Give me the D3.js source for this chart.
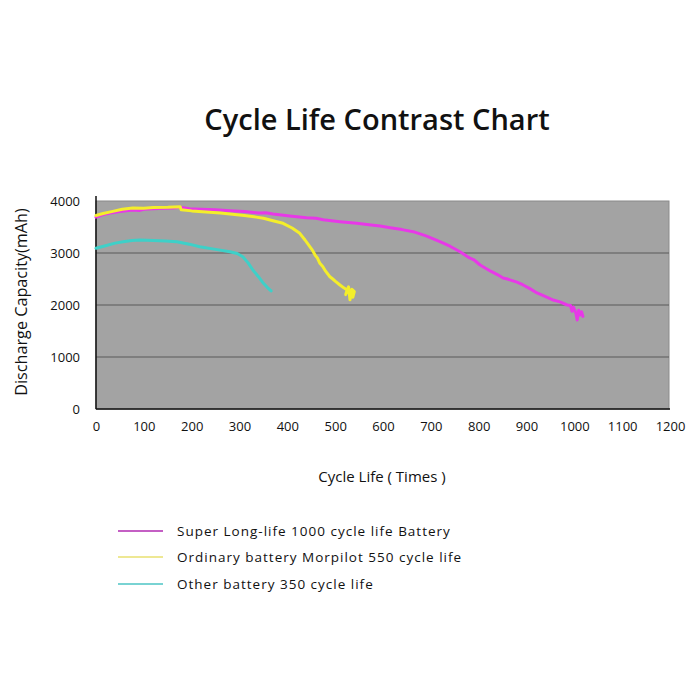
<!DOCTYPE html>
<html>
<head>
<meta charset="utf-8">
<script src="https://cdn.jsdelivr.net/npm/d3@7"></script>
<style>
  html, body { margin: 0; padding: 0; background: #ffffff; }
  svg { display: block; }
  text { font-family: "Open Sans", "Noto Sans", sans-serif; fill: #111; }
</style>
</head>
<body>
<svg id="chart" width="700" height="700"></svg>
<script>
// ---- data ----
const title = "Cycle Life Contrast Chart";
const xLabel = "Cycle Life ( Times )";
const yLabel = "Discharge Capacity(mAh)";
const xTicks = [0, 100, 200, 300, 400, 500, 600, 700, 800, 900, 1000, 1100, 1200];
const yTicks = [0, 1000, 2000, 3000, 4000];
const seriesNames = [
  "Super Long-life 1000 cycle life Battery",
  "Ordinary battery Morpilot 550 cycle life",
  "Other battery 350 cycle life"
];
// [cycles, capacity mAh]
const superLongLife = [[0,3690],[15,3740],[30,3770],[50,3800],[77,3827],[90,3815],[100,3840],[130,3855],[160,3865],[176,3878],[195,3850],[220,3840],[250,3830],[280,3814],[310,3800],[340,3770],[355,3775],[370,3750],[405,3712],[440,3680],[460,3670],[475,3640],[510,3603],[545,3570],[575,3540],[594,3519],[615,3487],[640,3450],[663,3410],[690,3330],[719,3218],[740,3130],[761,3025],[780,2910],[790,2870],[803,2769],[825,2650],[840,2580],[851,2519],[860,2500],[870,2470],[880,2440],[893,2385],[908,2310],[922,2231],[940,2160],[956,2096],[970,2060],[985,2000],[992,1990],[995,1880],[998,1960],[1003,1850],[1006,1711],[1009,1900],[1012,1808],[1015,1870],[1018,1780]];
const ordinary = [[0,3720],[15,3760],[35,3800],[55,3840],[77,3865],[100,3860],[120,3875],[150,3880],[176,3890],[178,3830],[200,3810],[230,3790],[260,3770],[280,3750],[310,3720],[335,3690],[350,3667],[370,3620],[391,3571],[410,3480],[426,3378],[437,3250],[447,3121],[452,3060],[458,2960],[463,2900],[468,2801],[474,2740],[480,2650],[489,2544],[495,2500],[500,2460],[510,2385],[518,2330],[525,2290],[522,2200],[528,2350],[531,2100],[534,2280],[537,2150],[540,2256],[535,2300]];
const other = [[0,3090],[20,3140],[40,3190],[57,3218],[75,3240],[92,3250],[120,3240],[145,3230],[169,3218],[195,3170],[217,3121],[250,3070],[280,3025],[295,2990],[307,2929],[318,2810],[328,2673],[340,2540],[350,2417],[358,2340],[364,2288],[360,2320],[366,2270]];
const lineColors = ["#e838e8", "#f4ee2a", "#3ed0c8"];
const legendColors = ["#b02ab0", "#e8e070", "#4cc4c4"];

// ---- drawing ----
const svg = d3.select("#chart");
const x = d3.scaleLinear().domain([0, 1200]).range([96, 670]);
const y = d3.scaleLinear().domain([0, 4000]).range([409, 201]);

svg.append("text").attr("x", 377).attr("y", 130).attr("text-anchor", "middle")
  .attr("font-size", 29).attr("font-weight", 600).text(title);

// plot background
svg.append("rect").attr("x", x(0)).attr("y", y(4000))
  .attr("width", x(1200) - x(0) - 1).attr("height", y(0) - y(4000))
  .attr("fill", "#a3a3a3").attr("stroke", "#8a8a8a").attr("stroke-width", 1);

// gridlines
svg.append("g").selectAll("line").data(yTicks.filter(d => d > 0 && d < 4000)).join("line")
  .attr("x1", x(0)).attr("x2", x(1200) - 1)
  .attr("y1", d => y(d)).attr("y2", d => y(d))
  .attr("stroke", "#5a5a5a").attr("stroke-width", 1.2);

// y axis
const yAxis = svg.append("g").attr("transform", `translate(${x(0)},0)`)
  .call(d3.axisLeft(y).tickValues(yTicks).tickSize(0).tickPadding(16).tickFormat(d3.format("d")));
yAxis.select(".domain").remove();
yAxis.selectAll("text").attr("font-size", 13).attr("fill", "#111")
  .style("font-family", '"Open Sans", sans-serif');
svg.append("line").attr("x1", x(0)).attr("x2", x(0)).attr("y1", 196).attr("y2", y(0))
  .attr("stroke", "#111").attr("stroke-width", 1.5);

// x axis
const xAxis = svg.append("g").attr("transform", `translate(0,${y(0)})`)
  .call(d3.axisBottom(x).tickValues(xTicks).tickSize(0).tickPadding(13).tickFormat(d3.format("d")));
xAxis.select(".domain").remove();
xAxis.selectAll("text").attr("font-size", 13).attr("fill", "#111")
  .style("font-family", '"Open Sans", sans-serif');
svg.append("line").attr("x1", x(0)).attr("x2", x(1200)).attr("y1", y(0)).attr("y2", y(0))
  .attr("stroke", "#111").attr("stroke-width", 1.5);

// axis titles
svg.append("text").attr("transform", "translate(27,302) rotate(-90)")
  .attr("text-anchor", "middle").attr("font-size", 16.2).text(yLabel);
svg.append("text").attr("x", 382).attr("y", 482).attr("text-anchor", "middle")
  .attr("font-size", 15).text(xLabel);

// series
const line = d3.line().x(d => x(d[0])).y(d => y(d[1]));
const allSeries = [superLongLife, ordinary, other];
svg.append("g").selectAll("path").data(allSeries).join("path")
  .attr("d", line).attr("fill", "none")
  .attr("stroke", (d, i) => lineColors[i]).attr("stroke-width", 3)
  .attr("stroke-linejoin", "round").attr("stroke-linecap", "round");

// legend
const legendY = [531, 557, 584];
const lg = svg.append("g").selectAll("g").data(seriesNames).join("g")
  .attr("transform", (d, i) => `translate(0,${legendY[i]})`);
lg.append("line").attr("x1", 118).attr("x2", 163).attr("y1", 0).attr("y2", 0)
  .attr("stroke", (d, i) => legendColors[i]).attr("stroke-width", 1.5);
lg.append("text").attr("x", 177).attr("y", 5).attr("font-size", 13.5)
  .attr("letter-spacing", 1).text(d => d);
</script>
</body>
</html>
